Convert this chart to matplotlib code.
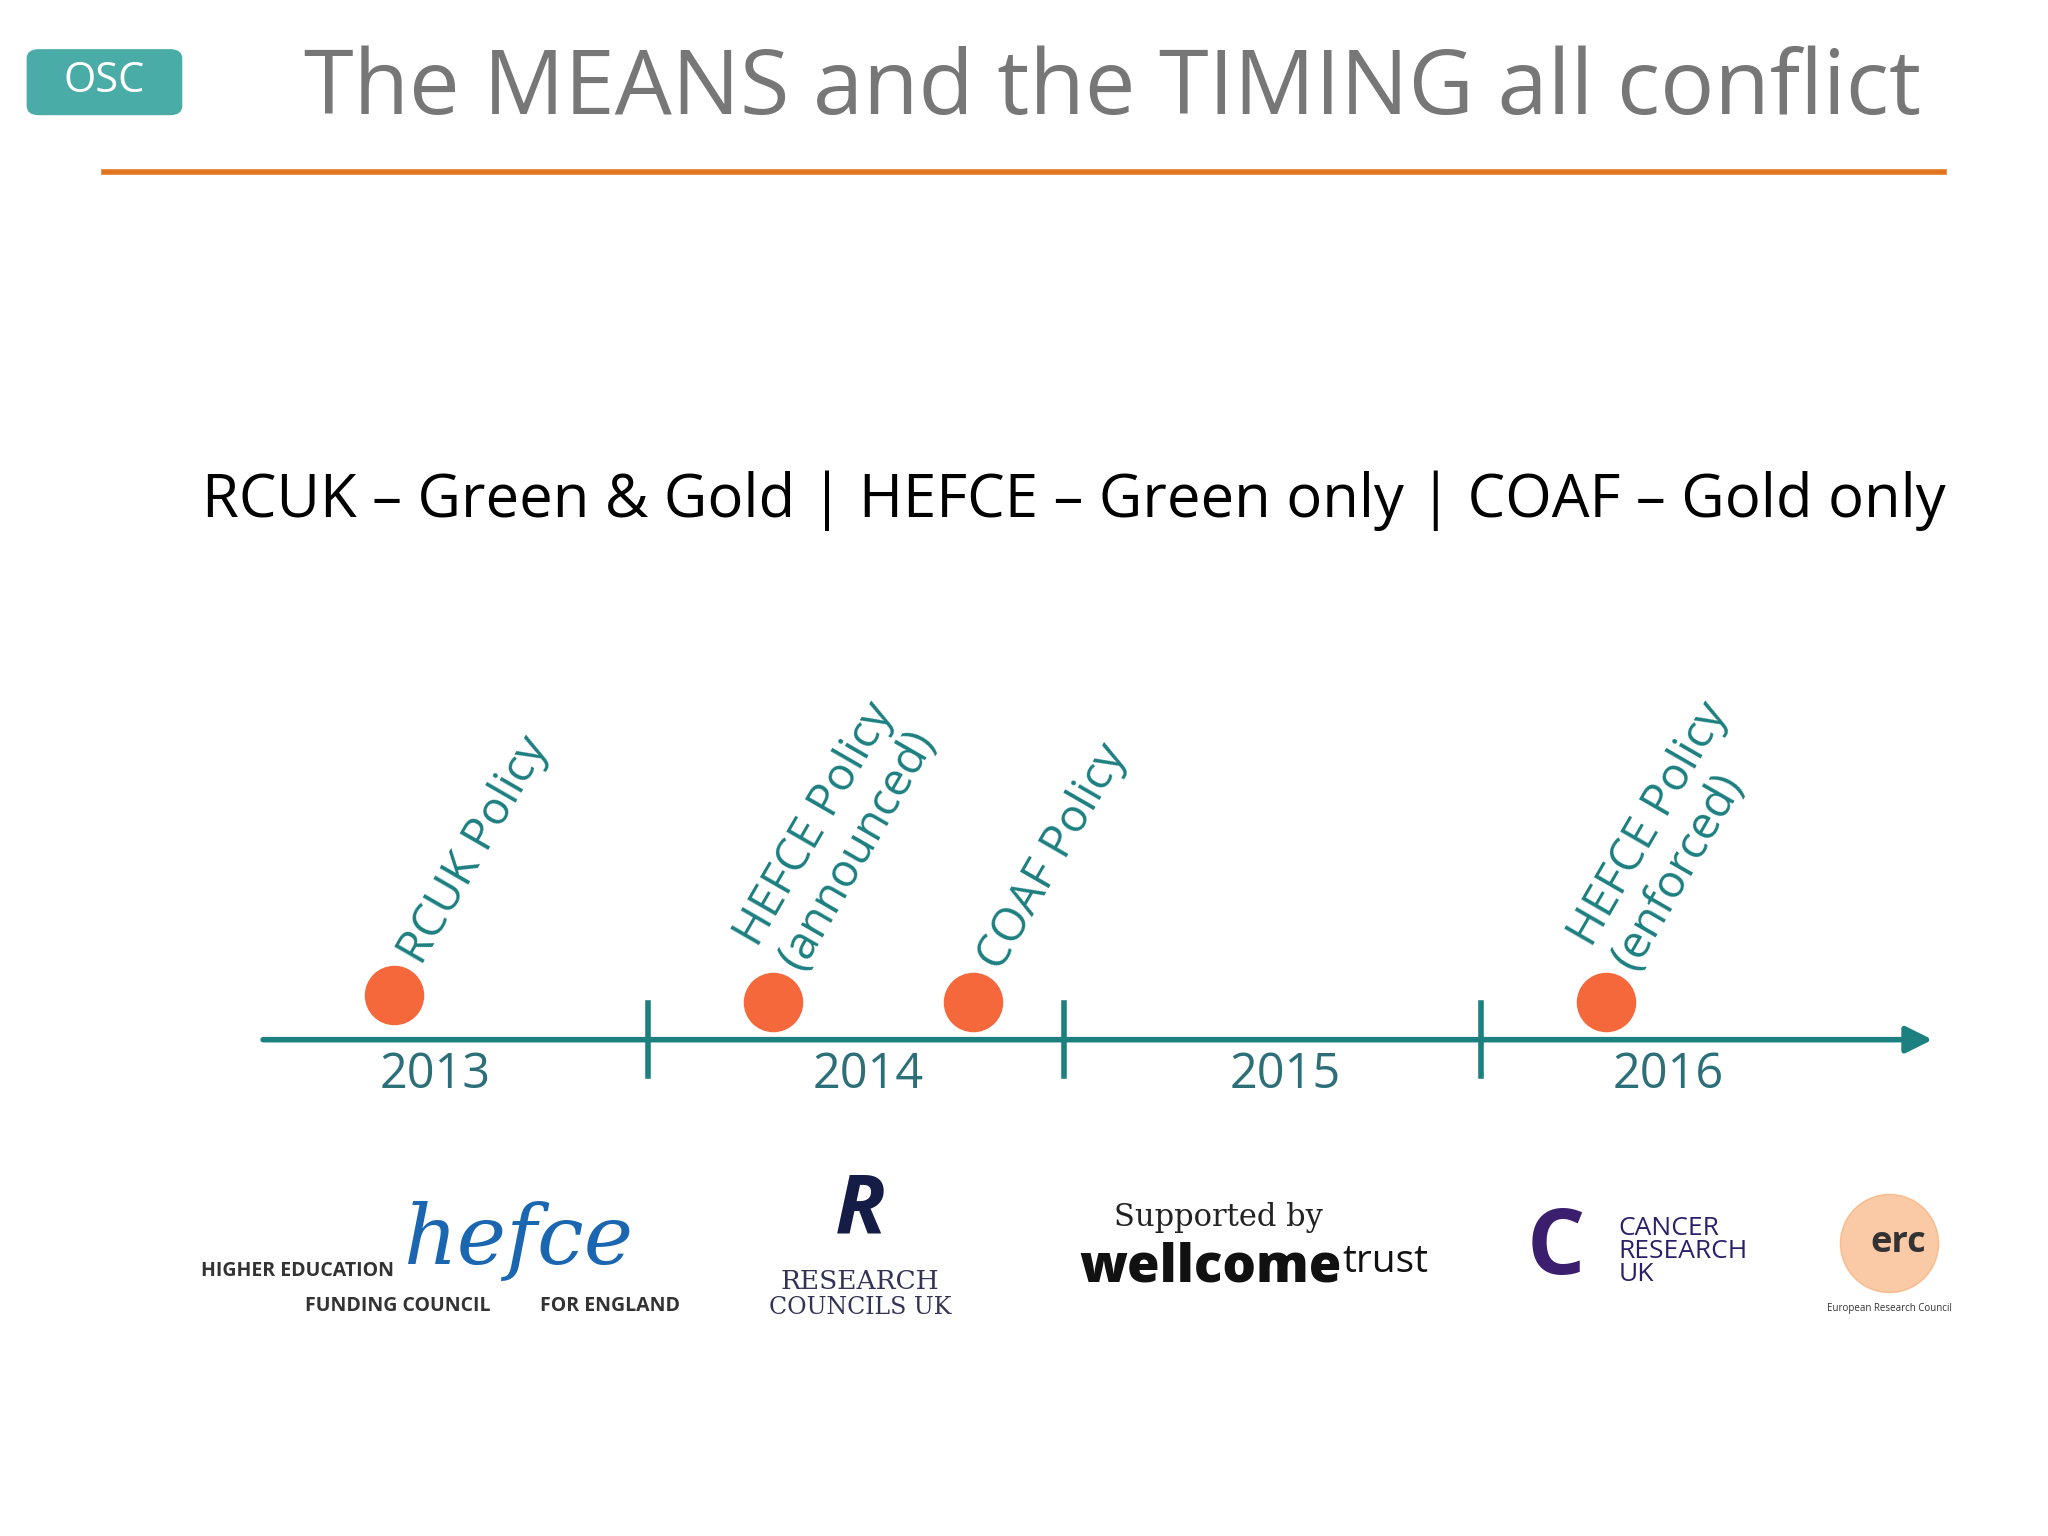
import matplotlib.pyplot as plt
from matplotlib.patches import FancyBboxPatch

plt.rcParams['font.family'] = ['Open Sans', 'DejaVu Sans']

TEAL = '#1c7f80'
ORANGE = '#f4683c'

# timeline data (fractional years)
year_labels = ['2013', '2014', '2015', '2016']
year_label_pos = [2013.49, 2014.53, 2015.53, 2016.45]
year_ticks = [2014.0, 2015.0, 2016.0]
event_names = ['RCUK Policy', 'HEFCE Policy\n(announced)', 'COAF Policy', 'HEFCE Policy\n(enforced)']
event_years = [2013.39, 2014.30, 2014.78, 2016.30]
event_rows = [762, 767, 767, 767]
line_start, line_end = 2013.07, 2017.09

fig = plt.figure(figsize=(20.48, 15.36), dpi=100)
fig.patch.set_facecolor('white')
ax = fig.add_axes([0, 0, 1, 1])
# x in years, y in reference pixel rows (1176 tall)
ax.set_xlim(2013 - 177 / 319, 2013 + (1568 - 177) / 319)
ax.set_ylim(1176, 0)
ax.axis('off')

# header
box = FancyBboxPatch((0.013, 0.925), 0.076, 0.043, boxstyle='round,pad=0,rounding_size=0.006',
                     transform=fig.transFigure, facecolor='#4aaca6', edgecolor='none')
fig.patches.append(box)
fig.text(0.051, 0.947, 'OSC', color='white', fontsize=30, ha='center', va='center')
fig.text(0.543, 0.941, 'The MEANS and the TIMING all conflict', color='#777777', fontsize=65,
         ha='center', va='center')
fig.add_artist(plt.Line2D([0.051, 0.949], [0.888, 0.888], color='#e2761f', linewidth=4,
                          transform=fig.transFigure))
fig.text(0.0985, 0.674, 'RCUK \u2013 Green & Gold | HEFCE \u2013 Green only | COAF \u2013 Gold only',
         color='black', fontsize=43, ha='left', va='center')

# timeline
ax.annotate('', xy=(line_end, 796), xytext=(line_start, 796),
            arrowprops=dict(arrowstyle='-|>', color=TEAL, lw=4, mutation_scale=40))
for t in year_ticks:
    ax.plot([t, t], [768, 824], color=TEAL, lw=4)
for lab, x in zip(year_labels, year_label_pos):
    ax.text(x, 823, lab, color='#2d6f78', fontsize=35, ha='center', va='center')
ax.scatter(event_years, event_rows, s=1750, color=ORANGE, zorder=3)
for name, x, y in zip(event_names, event_years, event_rows):
    ax.text(x + 0.09, y - 18, name, color=TEAL, fontsize=33, rotation=60,
            ha='left', va='bottom', rotation_mode='anchor', linespacing=1.1)

# funder logos (text approximations)
ax.text(2013.16, 973, 'HIGHER EDUCATION', fontsize=14, weight='bold', color='#333333', ha='center', va='center')
ax.text(2013.40, 1000, 'FUNDING COUNCIL', fontsize=14, weight='bold', color='#333333', ha='center', va='center')
ax.text(2013.91, 1000, 'FOR ENGLAND', fontsize=14, weight='bold', color='#333333', ha='center', va='center')
ax.text(2013.69, 950, 'hefce', fontsize=60, style='italic', family='DejaVu Serif', color='#1a66b0',
        ha='center', va='center')
ax.text(2014.51, 928, 'R', fontsize=60, weight='bold', style='italic', color='#151c45', ha='center', va='center')
ax.text(2014.51, 981, 'RESEARCH', fontsize=19, family='DejaVu Serif', color='#333355', ha='center', va='center')
ax.text(2014.51, 1001, 'COUNCILS UK', fontsize=17, family='DejaVu Serif', color='#333355', ha='center', va='center')
ax.text(2015.37, 932, 'Supported by', fontsize=22, family='DejaVu Serif', color='#222222', ha='center', va='center')
ax.text(2015.35, 971, 'wellcome', fontsize=38, weight='heavy', color='#111111', ha='center', va='center')
ax.text(2015.77, 966, 'trust', fontsize=28, color='#111111', ha='center', va='center')
ax.text(2016.18, 957, 'C', fontsize=66, weight='bold', color='#3b1e6e', ha='center', va='center')
ax.text(2016.33, 958, 'CANCER\nRESEARCH\nUK', fontsize=19, color='#2c1f6a', ha='left', va='center',
        linespacing=0.9)
ax.scatter([2016.98], [952], s=5000, color='#f7a66a', alpha=0.6)
ax.text(2017.0, 952, 'erc', fontsize=26, weight='bold', color='#333333', ha='center', va='center')
ax.text(2016.98, 1002, 'European Research Council', fontsize=7, color='#333333', ha='center', va='center')

fig.savefig('out.png', dpi=100, facecolor='white')
